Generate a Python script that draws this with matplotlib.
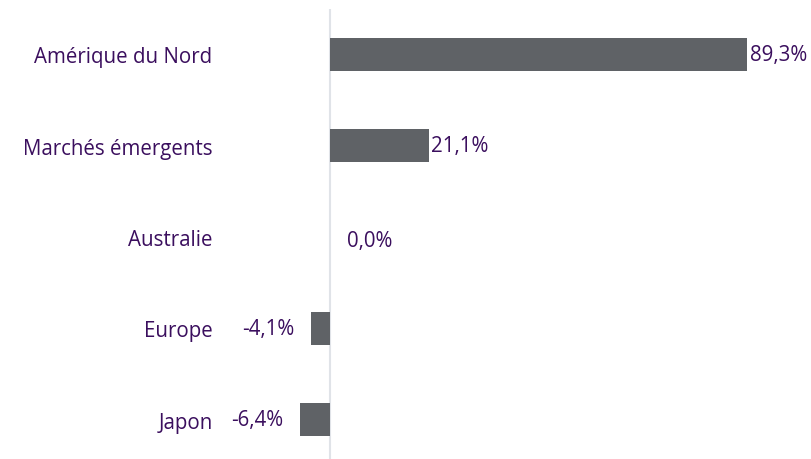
import matplotlib
matplotlib.use("Agg")
import matplotlib.pyplot as plt

categories = ["Amérique du Nord", "Marchés émergents", "Australie", "Europe", "Japon"]
values = [89.3, 21.1, 0.0, -4.1, -6.4]
value_labels = ["89,3%", "21,1%", "0,0%", "-4,1%", "-6,4%"]

text_color = "#3B0F5E"
bar_color = "#5F6266"

plt.rcParams['font.family'] = ['Open Sans', 'DejaVu Sans']

W, H = 811, 460
fig = plt.figure(figsize=(W / 100, H / 100), dpi=100)
ax_left, ax_right = 225, 811
ax_top, ax_bottom = 10, 460
ax = fig.add_axes([ax_left / W, 1 - ax_bottom / H, (ax_right - ax_left) / W, (ax_bottom - ax_top) / H])

zero_px = 330
scale = (747 - 330) / 89.3
ax.set_xlim((ax_left - zero_px) / scale, (ax_right - zero_px) / scale)
ypos = list(range(len(categories)))
ax.set_ylim(4.431, -0.496)

fs = 14.8
ax.barh(ypos, values, height=0.36, color=bar_color, zorder=2)
ax.axvline(0, color="#E0E3E8", lw=1.5, zorder=1)

for y, v, lab in zip(ypos, values, value_labels):
    if v > 0:
        ax.annotate(lab, (v, y), xytext=(2, 0), textcoords="offset points",
                    ha="left", va="center", color=text_color, fontsize=fs)
    elif v < 0:
        ax.annotate(lab, (v, y), xytext=(-12, 0), textcoords="offset points",
                    ha="right", va="center", color=text_color, fontsize=fs)
    else:
        ax.annotate(lab, (v, y), xytext=(12, -2.7), textcoords="offset points",
                    ha="left", va="center", color=text_color, fontsize=fs)

ax.set_yticks(ypos)
ax.set_yticklabels(categories, color=text_color, fontsize=fs)
ax.tick_params(axis="y", length=0, pad=9)
ax.set_xticks([])
for s in ax.spines.values():
    s.set_visible(False)

fig.savefig("out.png", dpi=100)
